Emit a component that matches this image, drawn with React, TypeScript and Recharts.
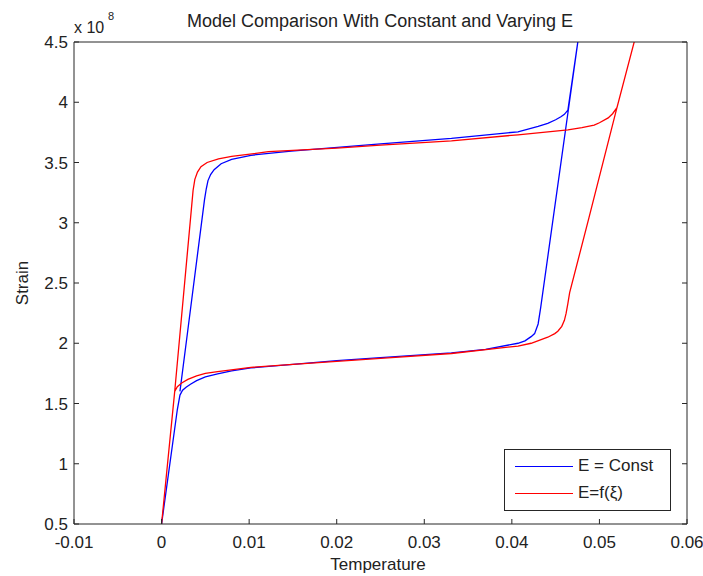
import React from 'react';
import { LineChart, Line, XAxis, YAxis, Legend } from 'recharts';

const tempTicks = [-0.01, 0, 0.01, 0.02, 0.03, 0.04, 0.05, 0.06];
const strainTicks = [0.5, 1, 1.5, 2, 2.5, 3, 3.5, 4, 4.5];

// E = Const : loading branch, then back down the unloading branch (strain x 1e8)
const constTemp = [
    0, 0.0018, 0.0021, 0.0024, 0.0028, 0.0033, 0.004, 0.005, 0.0064, 0.008, 0.0102, 0.015,
    0.02, 0.025, 0.0331, 0.037, 0.0407, 0.0415, 0.0422, 0.0426, 0.043, 0.0433, 0.04763,
    0.0464, 0.046, 0.0456, 0.045, 0.0441, 0.043, 0.0407, 0.0331, 0.025, 0.0148, 0.0102,
    0.008, 0.0068, 0.006, 0.0056, 0.0053, 0.0051, 0.0049, 0.003, 0.0021,
];
const constStrain = [
    0.5, 1.45, 1.57, 1.61, 1.635, 1.66, 1.69, 1.72, 1.745, 1.77, 1.795, 1.825,
    1.855, 1.88, 1.92, 1.95, 2.0, 2.02, 2.055, 2.08, 2.16, 2.3, 4.55,
    3.935, 3.9, 3.88, 3.855, 3.825, 3.8, 3.755, 3.7, 3.655, 3.595, 3.56,
    3.525, 3.49, 3.44, 3.4, 3.35, 3.28, 3.19, 2.11, 1.6,
];

// E = f(xi)
const varTemp = [
    0, 0.0015, 0.0018, 0.0023, 0.003, 0.004, 0.005, 0.0064, 0.0102, 0.015, 0.02, 0.025,
    0.0331, 0.0407, 0.0422, 0.0441, 0.0449, 0.04525, 0.0457, 0.046, 0.0462, 0.0464, 0.0466,
    0.0488, 0.052, 0.05415,
    0.052, 0.0515, 0.051, 0.05, 0.0494, 0.048, 0.0464, 0.0407, 0.0331, 0.025, 0.02, 0.0122,
    0.008, 0.0065, 0.0052, 0.0045, 0.0041, 0.0038, 0.0036, 0.0034, 0.0015,
];
const varStrain = [
    0.5, 1.6, 1.64, 1.67, 1.7, 1.73, 1.75, 1.765, 1.8, 1.825, 1.85, 1.875,
    1.915, 1.977, 2.0, 2.05, 2.08, 2.1, 2.14, 2.19, 2.25, 2.33, 2.42,
    3.04, 3.955, 4.55,
    3.955, 3.905, 3.87, 3.83, 3.81, 3.79, 3.77, 3.73, 3.68, 3.645, 3.62, 3.59,
    3.55, 3.53, 3.5, 3.465, 3.42, 3.36, 3.27, 3.11, 1.6,
];

const toPoints = (xs: number[], ys: number[]) => xs.map((x, i) => ({ temp: x, strain: ys[i] }));
const constData = toPoints(constTemp, constStrain);
const varData = toPoints(varTemp, varStrain);

const axisColor = '#262626';
const textColor = '#222';
const font = 'Arial, "Liberation Sans", Helvetica, sans-serif';
const tickLen = 5;

// MATLAB-style ticks point inward; the label sits outside the box
const BottomTick = (props: any) => {
    const { x, y, payload } = props;
    return (
        <g>
            <line x1={x} x2={x} y1={y - 8} y2={y - 8 - tickLen} stroke={axisColor} />
            <text x={x} y={y + 4} dy="0.71em" textAnchor="middle" fontSize={17} fill={textColor} fontFamily={font}>
                {payload.value}
            </text>
        </g>
    );
};

const LeftTick = (props: any) => {
    const { x, y, payload } = props;
    return (
        <g>
            <line x1={x + 6} x2={x + 6 + tickLen} y1={y} y2={y} stroke={axisColor} />
            <text x={x} y={y} dy="0.355em" textAnchor="end" fontSize={17} fill={textColor} fontFamily={font}>
                {payload.value}
            </text>
        </g>
    );
};

const TopTick = (props: any) => {
    const { x, y } = props;
    return <line x1={x} x2={x} y1={y} y2={y + tickLen} stroke={axisColor} />;
};

const RightTick = (props: any) => {
    const { x, y } = props;
    return <line x1={x} x2={x - tickLen} y1={y} y2={y} stroke={axisColor} />;
};

const renderLegend = (props: any) => {
    const { payload } = props;
    return (
        <div
            style={{
                width: 167,
                height: 62,
                border: `1px solid ${axisColor}`,
                background: '#fff',
                boxSizing: 'border-box',
                position: 'relative',
                fontFamily: font,
            }}
        >
            {(payload || []).map((entry: any, i: number) => (
                <div
                    key={entry.value}
                    style={{ position: 'absolute', left: 10, top: 5 + i * 27, height: 22, display: 'flex', alignItems: 'center' }}
                >
                    <div style={{ width: 58, height: 0, borderTop: `1.3px solid ${entry.color}` }} />
                    <span style={{ marginLeft: 5, fontSize: 17, color: textColor, whiteSpace: 'nowrap' }}>{entry.value}</span>
                </div>
            ))}
        </div>
    );
};

export default function App() {
    return (
        <div style={{ position: 'absolute', left: 0, top: 0, width: 703, height: 576, background: '#fff' }}>
            <LineChart width={703} height={576} margin={{ top: 41, right: 15, bottom: 0, left: 14 }}>
                <XAxis
                    dataKey="temp"
                    type="number"
                    domain={[-0.01, 0.06]}
                    ticks={tempTicks}
                    interval={0}
                    allowDataOverflow
                    height={52}
                    tickSize={0}
                    tickMargin={8}
                    tickLine={false}
                    stroke={axisColor}
                    tick={BottomTick}
                />
                <XAxis
                    xAxisId="top"
                    orientation="top"
                    type="number"
                    domain={[-0.01, 0.06]}
                    ticks={tempTicks}
                    interval={0}
                    allowDataOverflow
                    height={1}
                    tickSize={0}
                    tickMargin={0}
                    tickLine={false}
                    stroke={axisColor}
                    tick={TopTick}
                />
                <YAxis
                    type="number"
                    domain={[0.5, 4.5]}
                    ticks={strainTicks}
                    interval={0}
                    allowDataOverflow
                    width={60}
                    tickSize={0}
                    tickMargin={6}
                    tickLine={false}
                    stroke={axisColor}
                    tick={LeftTick}
                />
                <YAxis
                    yAxisId="right"
                    orientation="right"
                    type="number"
                    domain={[0.5, 4.5]}
                    ticks={strainTicks}
                    interval={0}
                    allowDataOverflow
                    width={1}
                    tickSize={0}
                    tickMargin={0}
                    tickLine={false}
                    stroke={axisColor}
                    tick={RightTick}
                />
                <Legend
                    layout="vertical"
                    align="center"
                    verticalAlign="middle"
                    content={renderLegend}
                    wrapperStyle={{ left: 504, top: 449, width: 167, height: 62 }}
                />
                <Line
                    data={constData}
                    dataKey="strain"
                    name="E = Const"
                    type="linear"
                    stroke="#0000ff"
                    strokeWidth={1.3}
                    dot={false}
                    isAnimationActive={false}
                />
                <Line
                    data={varData}
                    dataKey="strain"
                    name="E=f(ξ)"
                    type="linear"
                    stroke="#ff0000"
                    strokeWidth={1.3}
                    dot={false}
                    isAnimationActive={false}
                />
            </LineChart>
            <svg
                width={703}
                height={576}
                style={{ position: 'absolute', left: 0, top: 0, pointerEvents: 'none' }}
                fontFamily={font}
                fill={textColor}
            >
                <text x={380} y={27} fontSize={18} textAnchor="middle">
                    Model Comparison With Constant and Varying E
                </text>
                <text x={74} y={33} fontSize={16}>x 10</text>
                <text x={108} y={20} fontSize={11}>8</text>
                <text x={378} y={570} fontSize={17} textAnchor="middle">Temperature</text>
                <text transform="translate(28,283) rotate(-90)" fontSize={17} textAnchor="middle">Strain</text>
            </svg>
        </div>
    );
}
